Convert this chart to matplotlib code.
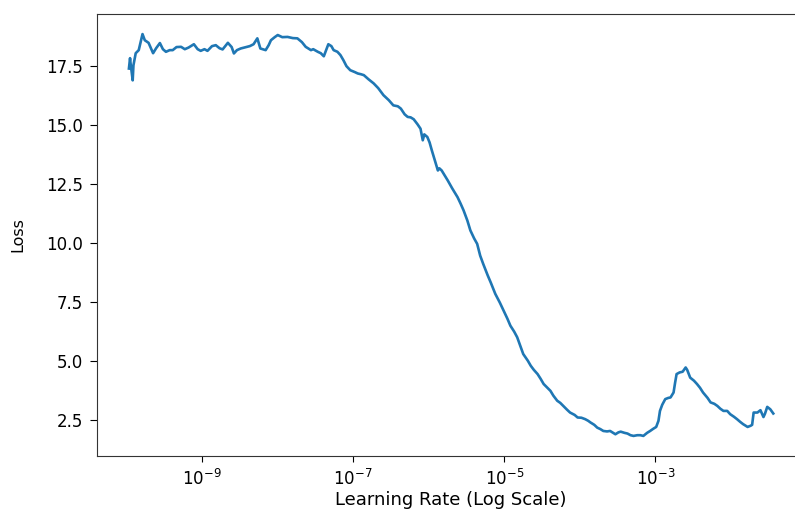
import matplotlib
matplotlib.use("Agg")
import matplotlib.pyplot as plt
from matplotlib.ticker import NullLocator
import numpy as np

# log10(learning rate) values
log_lr = [
    -9.97, -9.955, -9.95, -9.92, -9.91, -9.88, -9.84, -9.79, -9.76, -9.71,
    -9.65, -9.61, -9.56, -9.52, -9.48, -9.43, -9.39, -9.34, -9.28, -9.23,
    -9.18, -9.11, -9.06, -9.02, -8.97, -8.93, -8.87, -8.82, -8.77, -8.73,
    -8.66, -8.61, -8.58, -8.54, -8.49, -8.42, -8.37, -8.32, -8.27, -8.23,
    -8.16, -8.12, -8.09, -8.04, -8.00, -7.94, -7.87, -7.80, -7.74, -7.68,
    -7.63, -7.56, -7.53, -7.47, -7.43, -7.39, -7.35, -7.33, -7.29, -7.26,
    -7.21, -7.17, -7.13, -7.09, -7.04, -6.98, -6.94, -6.90, -6.86, -6.80,
    -6.73, -6.67, -6.60, -6.53, -6.47, -6.41, -6.37, -6.32, -6.28, -6.24,
    -6.20, -6.15, -6.11, -6.08, -6.06, -6.02, -5.99, -5.96, -5.92, -5.88,
    -5.86, -5.83, -5.79, -5.75, -5.69, -5.62, -5.58, -5.54, -5.49, -5.45,
    -5.40, -5.36, -5.32, -5.28, -5.22, -5.18, -5.12, -5.06, -5.01, -4.96,
    -4.92, -4.87, -4.83, -4.79, -4.75, -4.69, -4.65, -4.61, -4.56, -4.52,
    -4.48, -4.43, -4.39, -4.35, -4.30, -4.26, -4.22, -4.17, -4.13, -4.07,
    -4.03, -3.98, -3.93, -3.89, -3.86, -3.81, -3.77, -3.73, -3.69, -3.64,
    -3.60, -3.56, -3.53, -3.49, -3.46, -3.41, -3.37, -3.33, -3.29, -3.24,
    -3.20, -3.16, -3.11, -3.07, -3.03, -2.99, -2.96, -2.94, -2.91, -2.87,
    -2.83, -2.80, -2.76, -2.74, -2.72, -2.68, -2.64, -2.60, -2.58, -2.54,
    -2.49, -2.45, -2.41, -2.37, -2.31, -2.27, -2.22, -2.18, -2.14, -2.10,
    -2.05, -2.01, -1.96, -1.92, -1.88, -1.84, -1.78, -1.74, -1.72, -1.70,
    -1.65, -1.61, -1.57, -1.55, -1.52, -1.48, -1.44,
]

loss = [
    17.40, 17.84, 17.67, 16.90, 17.54, 18.05, 18.18, 18.86, 18.60, 18.49,
    18.05, 18.26, 18.48, 18.22, 18.11, 18.18, 18.18, 18.31, 18.32, 18.22,
    18.29, 18.43, 18.22, 18.15, 18.22, 18.15, 18.35, 18.39, 18.26, 18.21,
    18.49, 18.31, 18.04, 18.18, 18.25, 18.31, 18.35, 18.43, 18.68, 18.25,
    18.18, 18.39, 18.60, 18.73, 18.82, 18.73, 18.74, 18.69, 18.68, 18.52,
    18.32, 18.18, 18.22, 18.11, 18.05, 17.92, 18.26, 18.43, 18.35, 18.18,
    18.11, 17.97, 17.75, 17.50, 17.33, 17.25, 17.19, 17.16, 17.12, 16.95,
    16.77, 16.57, 16.27, 16.06, 15.84, 15.80, 15.70, 15.46, 15.35, 15.33,
    15.25, 15.04, 14.85, 14.36, 14.61, 14.50, 14.27, 13.93, 13.51, 13.08,
    13.17, 13.08, 12.87, 12.66, 12.32, 11.95, 11.68, 11.39, 10.96, 10.54,
    10.20, 9.97, 9.47, 9.12, 8.63, 8.33, 7.85, 7.48, 7.14, 6.80,
    6.50, 6.25, 6.01, 5.65, 5.30, 5.02, 4.80, 4.63, 4.45, 4.25,
    4.03, 3.87, 3.74, 3.53, 3.32, 3.23, 3.10, 2.94, 2.82, 2.72,
    2.61, 2.60, 2.54, 2.47, 2.40, 2.30, 2.18, 2.12, 2.04, 2.02,
    2.04, 1.96, 1.90, 1.98, 2.01, 1.96, 1.93, 1.86, 1.83, 1.86,
    1.86, 1.83, 1.96, 2.04, 2.13, 2.21, 2.47, 2.89, 3.15, 3.39,
    3.44, 3.46, 3.67, 4.08, 4.45, 4.52, 4.55, 4.73, 4.63, 4.30,
    4.17, 4.03, 3.87, 3.67, 3.44, 3.25, 3.19, 3.10, 2.98, 2.89,
    2.89, 2.75, 2.64, 2.54, 2.43, 2.33, 2.21, 2.26, 2.30, 2.82,
    2.82, 2.92, 2.63, 2.77, 3.06, 2.96, 2.78,
]

tick_exps = [-9, -7, -5, -3]
x_label = "Learning Rate (Log Scale)"
y_label = "Loss"

plt.rcParams["font.family"] = ["DejaVu Sans"]
plt.rcParams["font.size"] = 12

W, H = 795, 512
fig = plt.figure(figsize=(W / 100, H / 100), dpi=100)
ax = fig.add_axes([96.7 / W, (H - 456) / H, (805.5 - 96.7) / W, (456 - 14) / H])

lr = [10.0 ** v for v in log_lr]
ax.plot(lr, loss, color="#1f77b4", linewidth=1.9)
ax.set_xscale("log")
ax.set_xticks([10.0 ** e for e in tick_exps])
ax.xaxis.set_minor_locator(NullLocator())
ax.tick_params(axis="x", length=4.2, pad=5.0, labelsize=12)
ax.tick_params(axis="y", length=5.0, pad=5.0, labelsize=12)
for sp in ax.spines.values():
    sp.set_color("#333333")
ax.set_xlabel(x_label, fontsize=13)
ax.set_ylabel(y_label, fontsize=11.5)
ax.xaxis.set_label_coords(0.5, (456 - 491) / 442)
ax.yaxis.set_label_coords((25 - 96.7) / 708.8, 0.5)

fig.savefig("out.png", dpi=100)
